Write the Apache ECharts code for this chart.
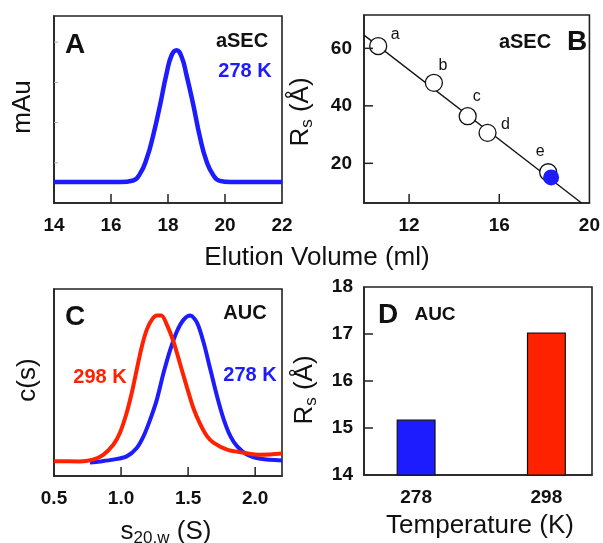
<!DOCTYPE html>
<html><head><meta charset="utf-8">
<script src="https://cdn.jsdelivr.net/npm/echarts@6/dist/echarts.min.js"></script>
<style>html,body{margin:0;padding:0;background:#fff}#c{width:603px;height:543px}</style>
</head><body><div id="c"></div>
<script>
// Panel A: aSEC elution profile (278 K)
const elutionVolumeA = [14, 16.32, 16.78, 17.02, 17.25, 17.48, 17.72, 17.95, 18.13, 18.30, 18.48, 18.65, 18.89, 19.12, 19.36, 19.59, 19.82, 20.18, 22];
const absorbanceA   = [0.52, 0.52, 0.56, 0.73, 1.10, 1.68, 2.43, 3.22, 3.68, 3.80, 3.63, 3.18, 2.43, 1.64, 1.02, 0.69, 0.55, 0.52, 0.52];
const ticksAx = [16, 18, 20];
const ticksAy = [1, 2, 3, 4];

// Panel B: calibration standards
const standardNames  = ['a', 'b', 'c', 'd', 'e'];
const standardVolume = [10.63, 13.10, 14.60, 15.48, 18.17];
const standardRs     = [60.8, 48.0, 36.4, 30.6, 16.9];
const sampleVolume   = [18.30];
const sampleRs       = [15.1];
const fitVolume      = [10, 19.65];
const fitRs          = [64.6, 6.2];
const ticksBx = [12, 16, 20];
const ticksBy = [20, 40, 60];

// Panel C: c(s) distributions
const sedRed = [0.5, 0.69, 0.79, 0.867, 0.942, 0.992, 1.042, 1.08, 1.117, 1.155, 1.192, 1.23, 1.267, 1.30, 1.342, 1.391, 1.442, 1.492, 1.541, 1.591, 1.642, 1.691, 1.791, 1.916, 2.04, 2.2];
const csRed  = [0.37, 0.365, 0.41, 0.53, 0.78, 1.08, 1.58, 2.08, 2.66, 3.24, 3.66, 3.91, 4.01, 4.01, 3.78, 3.36, 2.78, 2.21, 1.68, 1.29, 0.99, 0.83, 0.66, 0.58, 0.53, 0.56];
const sedBlue = [0.768, 0.842, 0.942, 1.042, 1.117, 1.167, 1.217, 1.267, 1.317, 1.367, 1.417, 1.467, 1.516, 1.567, 1.616, 1.666, 1.716, 1.766, 1.816, 1.866, 1.941, 2.04, 2.2];
const csBlue  = [0.34, 0.365, 0.41, 0.49, 0.70, 0.99, 1.41, 1.91, 2.58, 3.16, 3.62, 3.91, 4.01, 3.83, 3.33, 2.66, 1.99, 1.41, 0.99, 0.74, 0.53, 0.43, 0.39];
const ticksC = [0.5, 1.0, 1.5, 2.0];

// Panel D: AUC Rs by temperature
const temperatures = [278, 298];
const rsAUC = [15.18, 17.03];
const ticksDy = [15, 16, 17];

// styles (not data)
const BLUE = '#1c1cff', RED = '#ff2200', INK = '#111111';
const FONT = '"Liberation Sans", Arial, sans-serif';
const labelOffsets = [[17, -11], [9, -17], [9, -20], [18, -8], [-8, -21]];
const barColors = [BLUE, RED];
const AX = {A: {xMin: 14, xMax: 22, yMin: 0, yMax: 4.65}, B: {xMin: 10, xMax: 20, yMin: 6.2, yMax: 71.6},
            C: {xMin: 0.5, xMax: 2.2, yMin: 0, yMax: 4.675}, D: {xMin: 270, xMax: 305, yMin: 14, yMax: 18}};

const mkLabel = (extra) => Object.assign({fontFamily: FONT, fontWeight: 'bold', fontSize: 19, color: INK, margin: 13}, extra || {});
const mkLine = () => ({show: true, onZero: false, lineStyle: {color: '#222', width: 1.6}});
const mkGrid = (l, t, w, h) => ({left: l, top: t, width: w, height: h, show: true, borderColor: '#222', borderWidth: 1.6});
const zip = (a, b) => a.map((v, i) => [v, b[i]]);

// inward tick marks placed through the axes' own scales (drawn as rectangles)
function tickSeries(idx, values, isX, anchor, len, color, width) {
  return {
    type: 'custom', xAxisIndex: idx, yAxisIndex: idx, z: 20, silent: true, clip: false,
    data: values.map(v => isX ? [v, anchor] : [anchor, v]),
    renderItem: (params, api) => {
      const p = api.coord([api.value(0), api.value(1)]);
      return {type: 'rect', z2: 100,
              shape: isX ? {x: p[0] - width / 2, y: p[1] - len, width: width, height: len}
                         : {x: p[0], y: p[1] - width / 2, width: len, height: width},
              style: {fill: color}};
    }
  };
}

const option = {
  animation: false,
  grid: [mkGrid(54, 16, 228, 187), mkGrid(364, 15, 227, 188), mkGrid(54, 289, 228, 187), mkGrid(364, 287, 228, 188)],
  xAxis: [
    {gridIndex: 0, type: 'value', min: AX.A.xMin, max: AX.A.xMax, interval: 2,
     axisLine: mkLine(), splitLine: {show: false}, axisTick: {show: false}, axisLabel: mkLabel()},
    {gridIndex: 1, type: 'value', min: AX.B.xMin, max: AX.B.xMax,
     axisLine: mkLine(), splitLine: {show: false}, axisTick: {show: false},
     axisLabel: mkLabel({customValues: ticksBx})},
    {gridIndex: 2, type: 'value', min: AX.C.xMin, max: AX.C.xMax,
     axisLine: mkLine(), splitLine: {show: false}, axisTick: {show: false},
     axisLabel: mkLabel({customValues: ticksC, formatter: v => Number(v).toFixed(1)})},
    {gridIndex: 3, type: 'value', min: AX.D.xMin, max: AX.D.xMax,
     axisLine: mkLine(), splitLine: {show: false}, axisTick: {show: false},
     axisLabel: mkLabel({customValues: temperatures})}
  ],
  yAxis: [
    {gridIndex: 0, type: 'value', min: AX.A.yMin, max: AX.A.yMax,
     axisLine: mkLine(), splitLine: {show: false}, axisTick: {show: false}, axisLabel: {show: false}},
    {gridIndex: 1, type: 'value', min: AX.B.yMin, max: AX.B.yMax,
     axisLine: mkLine(), splitLine: {show: false}, axisTick: {show: false},
     axisLabel: mkLabel({margin: 12, customValues: ticksBy})},
    {gridIndex: 2, type: 'value', min: AX.C.yMin, max: AX.C.yMax,
     axisLine: mkLine(), splitLine: {show: false}, axisTick: {show: false}, axisLabel: {show: false}},
    {gridIndex: 3, type: 'value', min: AX.D.yMin, max: AX.D.yMax, interval: 1,
     axisLine: mkLine(), splitLine: {show: false}, axisTick: {show: false}, axisLabel: mkLabel({margin: 11})}
  ],
  series: [
    {type: 'line', xAxisIndex: 0, yAxisIndex: 0, data: zip(elutionVolumeA, absorbanceA),
     smooth: true, showSymbol: false, lineStyle: {color: BLUE, width: 4.5}},
    {type: 'line', xAxisIndex: 1, yAxisIndex: 1, data: zip(fitVolume, fitRs),
     showSymbol: false, lineStyle: {color: INK, width: 1.3}, z: 2},
    {type: 'scatter', xAxisIndex: 1, yAxisIndex: 1,
     data: standardVolume.map((v, i) => ({value: [v, standardRs[i]], name: standardNames[i],
       label: {offset: labelOffsets[i]}})),
     symbolSize: 17, itemStyle: {color: '#fff', borderColor: INK, borderWidth: 1.3, opacity: 1},
     label: {show: true, position: 'inside', formatter: p => p.name, fontFamily: FONT,
       fontSize: 16, color: INK}, z: 3},
    {type: 'scatter', xAxisIndex: 1, yAxisIndex: 1, data: zip(sampleVolume, sampleRs),
     symbolSize: 16, itemStyle: {color: BLUE, opacity: 1}, z: 4},
    {type: 'line', xAxisIndex: 2, yAxisIndex: 2, data: zip(sedBlue, csBlue),
     smooth: 0.3, showSymbol: false, lineStyle: {color: BLUE, width: 4}},
    {type: 'line', xAxisIndex: 2, yAxisIndex: 2, data: zip(sedRed, csRed),
     smooth: 0.3, showSymbol: false, lineStyle: {color: RED, width: 4}},
    {type: 'bar', xAxisIndex: 3, yAxisIndex: 3, barWidth: 39,
     data: temperatures.map((t, i) => ({value: [t, rsAUC[i]],
       itemStyle: {color: barColors[i], borderColor: INK, borderWidth: 1.2}}))},
    tickSeries(0, ticksAx, true, AX.A.yMin, 9, '#222222', 1.5),
    tickSeries(0, ticksAy, false, AX.A.xMin, 4, '#aaaaaa', 1),
    tickSeries(1, ticksBx.slice(0, 2), true, AX.B.yMin, 9, '#222222', 1.5),
    tickSeries(1, ticksBy, false, AX.B.xMin, 9, '#222222', 1.5),
    tickSeries(2, ticksC.slice(1), true, AX.C.yMin, 9, '#222222', 1.5),
    tickSeries(3, ticksDy, false, AX.D.xMin, 9, '#222222', 1.5)
  ],
  graphic: [
    {type: 'text', x: 75, y: 45, style: {text: 'A', fontFamily: FONT, fontWeight: 'bold', fontSize: 28, fill: INK, align: 'center', verticalAlign: 'middle'}},
    {type: 'text', x: 242, y: 41, style: {text: 'aSEC', fontFamily: FONT, fontWeight: 'bold', fontSize: 20, fill: INK, align: 'center', verticalAlign: 'middle'}},
    {type: 'text', x: 245, y: 71, style: {text: '278 K', fontFamily: FONT, fontWeight: 'bold', fontSize: 20, fill: BLUE, align: 'center', verticalAlign: 'middle'}},
    {type: 'text', x: 23, y: 107, rotation: Math.PI / 2, style: {text: 'mAu', fontFamily: FONT, fontSize: 26, fill: INK, align: 'center', verticalAlign: 'middle'}},
    {type: 'text', x: 525, y: 42, style: {text: 'aSEC', fontFamily: FONT, fontWeight: 'bold', fontSize: 20, fill: INK, align: 'center', verticalAlign: 'middle'}},
    {type: 'text', x: 577, y: 42, style: {text: 'B', fontFamily: FONT, fontWeight: 'bold', fontSize: 28, fill: INK, align: 'center', verticalAlign: 'middle'}},
    {type: 'text', x: 301, y: 112, rotation: Math.PI / 2, style: {text: '{m|R}{s|s}{m| (Å)}', align: 'center', verticalAlign: 'middle',
      rich: {m: {fontFamily: FONT, fontSize: 26, fill: INK, lineHeight: 30, verticalAlign: 'middle'},
             s: {fontFamily: FONT, fontSize: 17, fill: INK, lineHeight: 12, verticalAlign: 'bottom'}}}},
    {type: 'text', x: 317, y: 258, style: {text: 'Elution Volume (ml)', fontFamily: FONT, fontSize: 26, fill: INK, align: 'center', verticalAlign: 'middle'}},
    {type: 'text', x: 75, y: 317, style: {text: 'C', fontFamily: FONT, fontWeight: 'bold', fontSize: 28, fill: INK, align: 'center', verticalAlign: 'middle'}},
    {type: 'text', x: 245, y: 313, style: {text: 'AUC', fontFamily: FONT, fontWeight: 'bold', fontSize: 20, fill: INK, align: 'center', verticalAlign: 'middle'}},
    {type: 'text', x: 100, y: 377, style: {text: '298 K', fontFamily: FONT, fontWeight: 'bold', fontSize: 20, fill: RED, align: 'center', verticalAlign: 'middle'}},
    {type: 'text', x: 250, y: 375, style: {text: '278 K', fontFamily: FONT, fontWeight: 'bold', fontSize: 20, fill: BLUE, align: 'center', verticalAlign: 'middle'}},
    {type: 'text', x: 28, y: 380, rotation: Math.PI / 2, style: {text: 'c(s)', fontFamily: FONT, fontSize: 26, fill: INK, align: 'center', verticalAlign: 'middle'}},
    {type: 'text', x: 166, y: 532, style: {text: '{m|s}{s|20,w}{m| (S)}', align: 'center', verticalAlign: 'middle',
      rich: {m: {fontFamily: FONT, fontSize: 26, fill: INK, lineHeight: 30, verticalAlign: 'middle'},
             s: {fontFamily: FONT, fontSize: 17, fill: INK, lineHeight: 12, verticalAlign: 'bottom'}}}},
    {type: 'text', x: 388, y: 315, style: {text: 'D', fontFamily: FONT, fontWeight: 'bold', fontSize: 28, fill: INK, align: 'center', verticalAlign: 'middle'}},
    {type: 'text', x: 435, y: 315, style: {text: 'AUC', fontFamily: FONT, fontWeight: 'bold', fontSize: 19, fill: INK, align: 'center', verticalAlign: 'middle'}},
    {type: 'text', x: 305, y: 390, rotation: Math.PI / 2, style: {text: '{m|R}{s|s}{m| (Å)}', align: 'center', verticalAlign: 'middle',
      rich: {m: {fontFamily: FONT, fontSize: 26, fill: INK, lineHeight: 30, verticalAlign: 'middle'},
             s: {fontFamily: FONT, fontSize: 17, fill: INK, lineHeight: 12, verticalAlign: 'bottom'}}}},
    {type: 'text', x: 480, y: 526, style: {text: 'Temperature (K)', fontFamily: FONT, fontSize: 26, fill: INK, align: 'center', verticalAlign: 'middle'}}
  ]
};
const chart = echarts.init(document.getElementById('c'));
chart.setOption(option);
</script></body></html>
